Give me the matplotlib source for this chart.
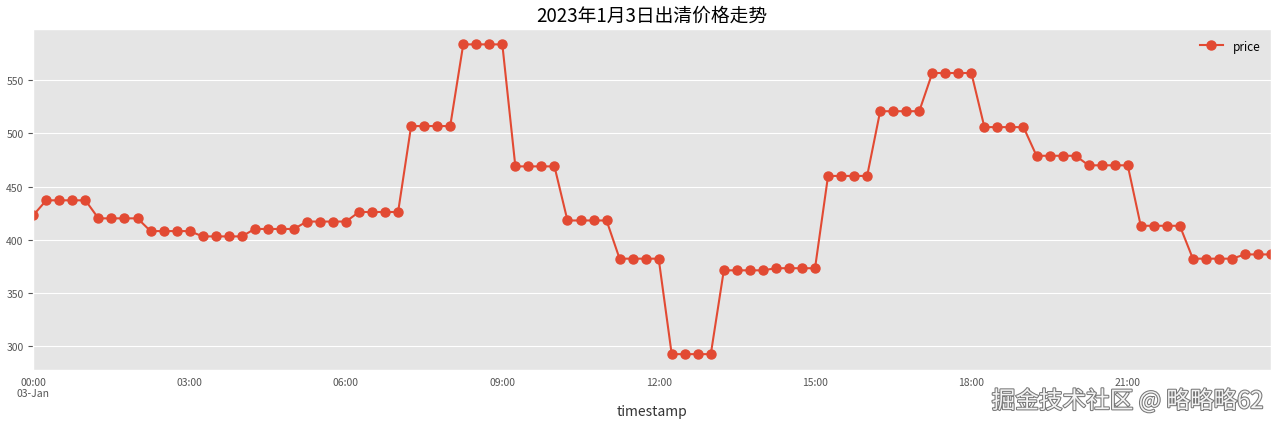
import pandas as pd
import matplotlib.pyplot as plt
import matplotlib.patheffects as pe

# 2023-01-03 每15分钟出清价格
price = [423,
         437, 437, 437, 437,
         420, 420, 420, 420,
         408, 408, 408, 408,
         403, 403, 403, 403,
         410, 410, 410, 410,
         417, 417, 417, 417,
         426, 426, 426, 426,
         507, 507, 507, 507,
         584, 584, 584, 584,
         469, 469, 469, 469,
         418, 418, 418, 418,
         382, 382, 382, 382,
         292, 292, 292, 292,
         371, 371, 371, 371,
         373, 373, 373, 373,
         460, 460, 460, 460,
         521, 521, 521, 521,
         557, 557, 557, 557,
         506, 506, 506, 506,
         479, 479, 479, 479,
         470, 470, 470, 470,
         413, 413, 413, 413,
         382, 382, 382, 382,
         386, 386, 386]
start_time = '2023-01-03 00:00'
title = '2023年1月3日出清价格走势'

plt.style.use('ggplot')
plt.rcParams['font.family'] = ['Noto Sans CJK SC', 'DejaVu Sans']
plt.rcParams['axes.unicode_minus'] = False

idx = pd.date_range(start_time, periods=len(price), freq='15min', name='timestamp')
df = pd.DataFrame({'price': price}, index=idx)

fig, ax = plt.subplots(figsize=(12.8, 4.27), dpi=100)
df.plot(ax=ax, marker='o', markersize=6.5, linewidth=1.5)
ax.set_title(title, fontsize=13.5, color='black')
ax.set_xlabel('timestamp', fontsize=10, color='#333333')
ax.tick_params(axis='both', which='both', labelsize=7.5)
ax.tick_params(axis='x', which='both', length=0, pad=5)
ax.legend(loc='upper right', frameon=False, fontsize=8.5)

# 水印
fig.text(0.987, 0.03, '掘金技术社区 @ 略略略62', ha='right', va='bottom',
         fontsize=17, color='#f4f4f4',
         path_effects=[pe.withStroke(linewidth=1.5, foreground='#777777')])

fig.subplots_adjust(left=0.026, right=0.993, top=0.93, bottom=0.132)
fig.savefig('out.png')
